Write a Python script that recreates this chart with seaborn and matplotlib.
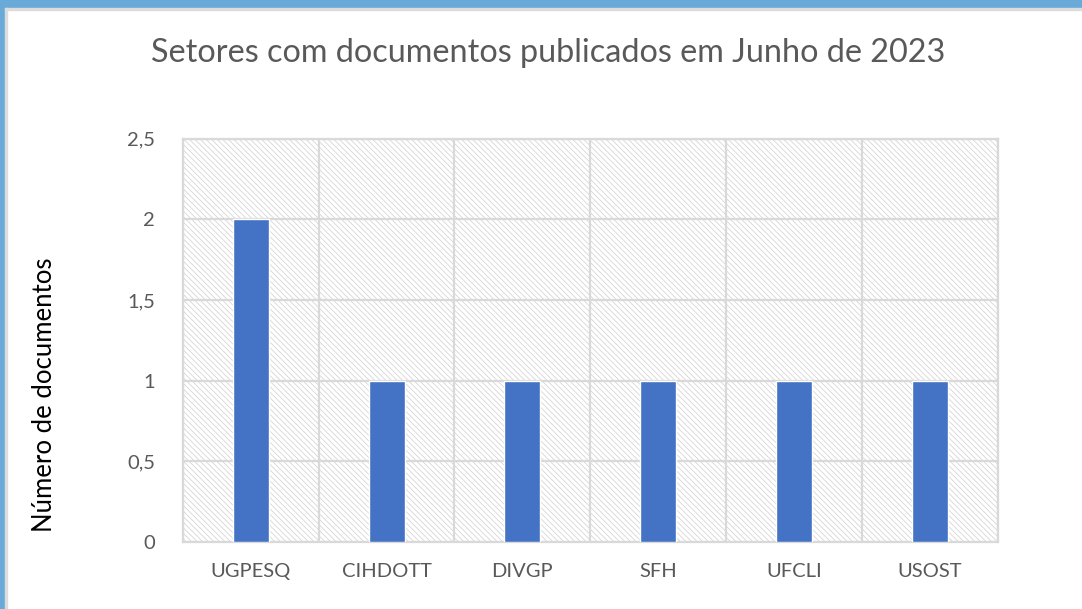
import matplotlib
matplotlib.use("Agg")
import matplotlib.pyplot as plt
from matplotlib.patches import Rectangle
from matplotlib.ticker import FixedLocator, FuncFormatter
import seaborn as sb
import pandas as pd

setores = ["UGPESQ", "CIHDOTT", "DIVGP", "SFH", "UFCLI", "USOST"]
documentos = [2, 1, 1, 1, 1, 1]
y_ticks = [0, 0.5, 1, 1.5, 2, 2.5]

df = pd.DataFrame({"setor": setores, "docs": documentos})

sb.set_style("white")
plt.rcParams["font.family"] = ["Lato", "DejaVu Sans"]
plt.rcParams["hatch.linewidth"] = 0.5

fig = plt.figure(figsize=(10.82, 6.09), dpi=100)
ax = fig.add_axes([0.169, 0.110, 0.753, 0.662])

sb.barplot(data=df, x="setor", y="docs", color="#4472c4", saturation=1,
           width=0.265, ax=ax, zorder=3)

# hatched background like the excel chart area
ax.patch.set_facecolor("white")
ax.patch.set_hatch("\\\\\\\\\\\\")
ax.patch.set_edgecolor("#cfcfcf")

ax.set_ylim(0, 2.5)
ax.set_xlim(-0.5, len(setores) - 0.5)
ax.set_yticks(y_ticks)
ax.yaxis.set_major_formatter(FuncFormatter(lambda v, p: ("%g" % v).replace(".", ",")))
ax.xaxis.set_minor_locator(FixedLocator([i + 0.5 for i in range(-1, len(setores))]))
ax.grid(axis="y", which="major", color="#d9d9d9", linewidth=1.6, zorder=1)
ax.grid(axis="x", which="minor", color="#d9d9d9", linewidth=1.6, zorder=1)
ax.set_axisbelow(True)
for s in ax.spines.values():
    s.set_color("#d9d9d9")
    s.set_linewidth(1.6)

ax.tick_params(axis="both", which="both", length=0, labelsize=14.5, colors="#595959")
ax.tick_params(axis="x", pad=15)
ax.tick_params(axis="y", pad=20)
ax.set_xlabel("")
ax.set_ylabel("Número de documentos", fontsize=18.5, color="black")
ax.yaxis.set_label_coords(-0.1546, 0.365)

fig.text(0.507, 0.913, "Setores com documentos publicados em Junho de 2023",
         ha="center", va="center", fontsize=23.3, color="#595959")

# blue frame from the screenshot
fig.patches.append(Rectangle((0, 1 - 8 / 609), 1, 8 / 609, transform=fig.transFigure,
                             color="#6aaad9", zorder=0))
fig.patches.append(Rectangle((0, 0), 5 / 1082, 1, transform=fig.transFigure,
                             color="#6aaad9", zorder=0))
fig.patches.append(Rectangle((5 / 1082, 1 - 10 / 609), 1, 2 / 609, transform=fig.transFigure,
                             color="#dcdcdc", zorder=0))
fig.patches.append(Rectangle((5 / 1082, 0), 2 / 1082, 1 - 8 / 609, transform=fig.transFigure,
                             color="#dcdcdc", zorder=0))

fig.savefig("out.png", dpi=100)
